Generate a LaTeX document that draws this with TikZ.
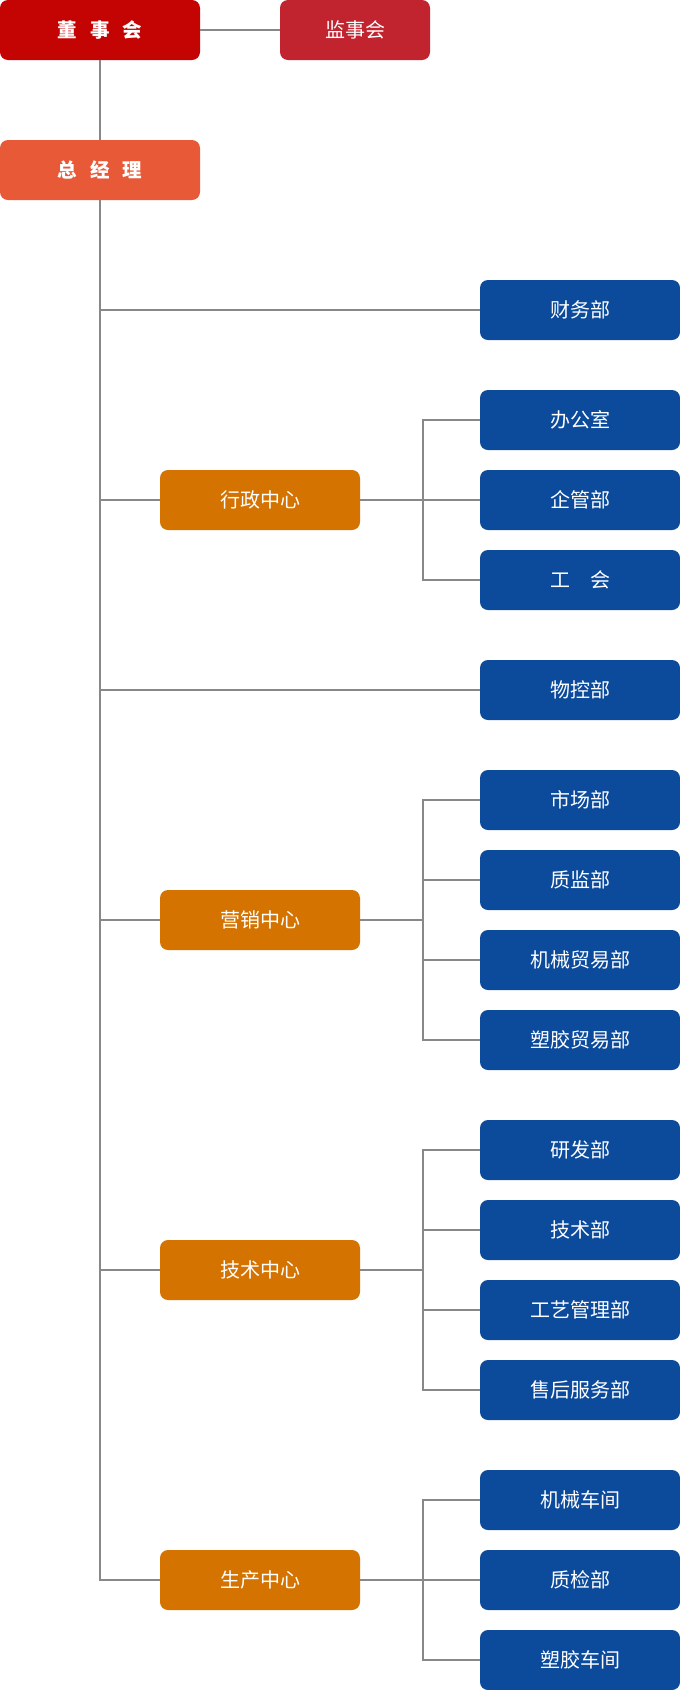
\documentclass[tikz,border=0pt]{standalone}
\usepackage{fontspec}
\newfontfamily\cjk{Noto Sans CJK SC}
\definecolor{boardred}{HTML}{C40303}
\definecolor{supred}{HTML}{C1232F}
\definecolor{gmorange}{HTML}{E85A37}
\definecolor{centerorange}{HTML}{D57300}
\definecolor{deptblue}{HTML}{0C4A9C}
\definecolor{linegray}{HTML}{888888}
\begin{document}
\begin{tikzpicture}[x=1pt,y=-1pt,
  box/.style={rectangle,rounded corners=8pt,minimum width=200pt,minimum height=60pt,inner sep=0pt,text=white,font=\cjk\fontsize{20}{20}\selectfont},
  topbox/.style={box,font=\cjk\bfseries\fontsize{19.5}{19.5}\selectfont},
  center/.style={box,fill=centerorange},
  dept/.style={box,fill=deptblue},
  conn/.style={draw=linegray,line width=1.4pt}]
\useasboundingbox (0,0) rectangle (680,1690);
\node[topbox,fill=boardred] (board) at (100,30) {董\hspace{13pt}事\hspace{13pt}会};
\node[box,fill=supred,minimum width=150pt] (sup) at (355,30) {监事会};
\node[topbox,fill=gmorange] (gm) at (100,170) {总\hspace{13pt}经\hspace{13pt}理};
% departments
\node[dept] (cw) at (580,310) {财务部};
\node[dept] (bgs) at (580,420) {办公室};
\node[dept] (qgb) at (580,500) {企管部};
\node[dept] (gh) at (580,580) {工\hspace{20pt}会};
\node[dept] (wk) at (580,690) {物控部};
\node[dept] (sc) at (580,800) {市场部};
\node[dept] (zj) at (580,880) {质监部};
\node[dept] (jxmy) at (580,960) {机械贸易部};
\node[dept] (sjmy) at (580,1040) {塑胶贸易部};
\node[dept] (yf) at (580,1150) {研发部};
\node[dept] (js) at (580,1230) {技术部};
\node[dept] (gy) at (580,1310) {工艺管理部};
\node[dept] (sh) at (580,1390) {售后服务部};
\node[dept] (jxcj) at (580,1500) {机械车间};
\node[dept] (zjb) at (580,1580) {质检部};
\node[dept] (sjcj) at (580,1660) {塑胶车间};
% centers
\node[center] (xz) at (260,500) {行政中心};
\node[center] (yx) at (260,920) {营销中心};
\node[center] (jszx) at (260,1270) {技术中心};
\node[center] (szx) at (260,1580) {生产中心};
% trunk coordinates
\coordinate (tend) at (100,1580);
\coordinate (t1) at (100,310);
\coordinate (t2) at (100,500);
\coordinate (t3) at (100,690);
\coordinate (t4) at (100,920);
\coordinate (t5) at (100,1270);
\coordinate (b1) at (423,500);
\coordinate (b2) at (423,920);
\coordinate (b3) at (423,1270);
\coordinate (b4) at (423,1580);
\draw[conn] (board.east) -- (sup.west);
\draw[conn] (board.south) -- (gm.north);
\draw[conn] (gm.south) -- (tend) -- (szx.west);
\draw[conn] (t1) -- (cw.west);
\draw[conn] (t2) -- (xz.west);
\draw[conn] (t3) -- (wk.west);
\draw[conn] (t4) -- (yx.west);
\draw[conn] (t5) -- (jszx.west);
% admin
\draw[conn] (xz.east) -- (qgb.west);
\draw[conn] (bgs.west) -- (bgs.west -| b1) -- (gh.west -| b1) -- (gh.west);
% marketing
\draw[conn] (yx.east) -- (b2);
\draw[conn] (sc.west) -- (sc.west -| b2) -- (sjmy.west -| b2) -- (sjmy.west);
\draw[conn] (zj.west -| b2) -- (zj.west);
\draw[conn] (jxmy.west -| b2) -- (jxmy.west);
% tech
\draw[conn] (jszx.east) -- (b3);
\draw[conn] (yf.west) -- (yf.west -| b3) -- (sh.west -| b3) -- (sh.west);
\draw[conn] (js.west -| b3) -- (js.west);
\draw[conn] (gy.west -| b3) -- (gy.west);
% production
\draw[conn] (szx.east) -- (zjb.west);
\draw[conn] (jxcj.west) -- (jxcj.west -| b4) -- (sjcj.west -| b4) -- (sjcj.west);
\end{tikzpicture}
\end{document}
